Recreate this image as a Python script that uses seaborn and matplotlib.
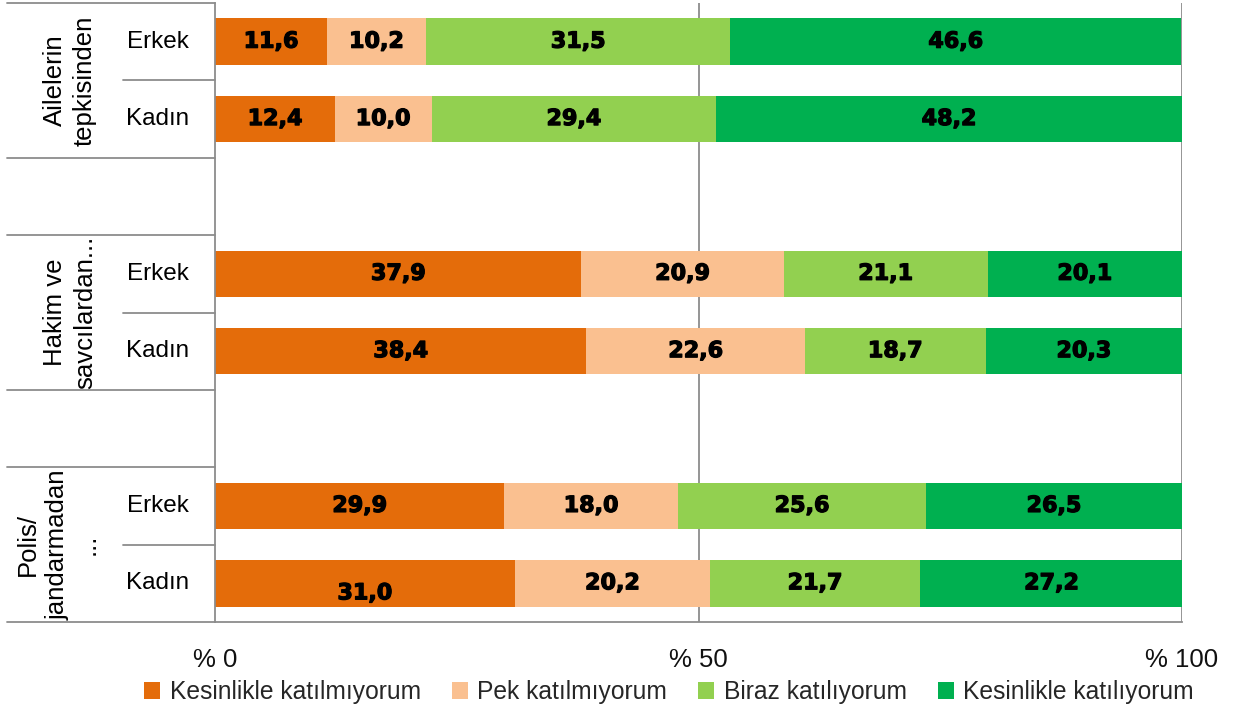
import numpy as np
import pandas as pd
import matplotlib
matplotlib.use("Agg")
import matplotlib.pyplot as plt
import matplotlib.patheffects as pe
import seaborn as sns
from matplotlib.transforms import blended_transform_factory
from matplotlib.patches import Patch
from matplotlib import font_manager

# ---------------- data ----------------
groups = ["Ailelerin\ntepkisinden", "Hakim ve\nsavcılardan...", "Polis/\njandarmadan\n..."]
genders = ["Erkek", "Kadın"]
responses = ["Kesinlikle katılmıyorum", "Pek katılmıyorum",
             "Biraz katılıyorum", "Kesinlikle katılıyorum"]
# rows: (Ailelerin Erkek, Ailelerin Kadın, Hakim Erkek, Hakim Kadın, Polis Erkek, Polis Kadın)
kesinlikle_katilmiyorum = [11.6, 12.4, 37.9, 38.4, 29.9, 31.0]
pek_katilmiyorum = [10.2, 10.0, 20.9, 22.6, 18.0, 20.2]
biraz_katiliyorum = [31.5, 29.4, 21.1, 18.7, 25.6, 21.7]
kesinlikle_katiliyorum = [46.6, 48.2, 20.1, 20.3, 26.5, 27.2]
xticks = [0, 50, 100]
xtick_labels = ["% 0", "% 50", "% 100"]
colors = ["#E46C0A", "#FAC090", "#92D050", "#00B050"]

series = [kesinlikle_katilmiyorum, pek_katilmiyorum, biraz_katiliyorum, kesinlikle_katiliyorum]

# ---------------- build long table ----------------
order = []
row_keys = []
for gi in range(len(groups)):
    for g in genders:
        k = f"g{gi}-{g}"
        order.append(k)
        row_keys.append(k)
    if gi < len(groups) - 1:
        order.append(f"gap{gi}")

records = []
for ri, key in enumerate(row_keys):
    start = 0.0
    for si, resp in enumerate(responses):
        v = series[si][ri]
        records.append(dict(row=key, response=resp, value=v, start=start, end=start + v))
        start += v
df = pd.DataFrame(records)

# ---------------- style ----------------
sns.set_style("white")
fonts = font_manager.fontManager.ttflist
avail = {f.name for f in fonts}
base_font = "Liberation Sans" if "Liberation Sans" in avail else "DejaVu Sans"
plt.rcParams["font.family"] = [base_font, "DejaVu Sans"]

fig = plt.figure(figsize=(12.36, 7.11), dpi=100)
ax = fig.add_axes([215 / 1236, 1 - 622 / 711, (1182 - 215) / 1236, (622 - 3) / 711])

# stacked bars: draw cumulative ends from last to first
for si in reversed(range(len(responses))):
    sub = df[df["response"] == responses[si]]
    sns.barplot(data=sub, x="end", y="row", order=order, orient="h",
                color=colors[si], saturation=1, width=0.6, edgecolor="none",
                linewidth=0, errorbar=None, ax=ax, zorder=2)

ax.set_xlim(0, 100)
ax.set_ylim(len(order) - 0.5, -0.5)

# value labels
pos = {k: i for i, k in enumerate(order)}
heavy = [pe.withStroke(linewidth=0.9, foreground="black")]
for _, r in df.iterrows():
    dy = 0.13 if (r["row"] == "g2-Kadın" and r["response"] == responses[0]) else 0.0
    ax.text(r["start"] + r["value"] / 2, pos[r["row"]] + dy,
            f"{r['value']:.1f}".replace(".", ","),
            ha="center", va="center", fontsize=16, fontweight="bold",
            family="DejaVu Sans", color="black", zorder=5, path_effects=heavy)

# grid lines
grid_col = "#8C8C8C"
for x in [50, 100]:
    ax.axvline(x, color=grid_col, lw=1.3, zorder=1)

for s in ["top", "right"]:
    ax.spines[s].set_visible(False)
for s in ["left", "bottom"]:
    ax.spines[s].set_color(grid_col)
    ax.spines[s].set_linewidth(1.3)

ax.set_xticks(xticks)
ax.set_xticklabels(xtick_labels)
ax.tick_params(axis="x", direction="out", length=8, width=1.3, color=grid_col,
               labelsize=18.5, pad=11, labelcolor="#111111")
ax.set_yticks([])
ax.set_xlabel("")
ax.set_ylabel("")

# label-area lines
trans = blended_transform_factory(ax.transAxes, ax.transData)
full_left = -(215 - 7) / 967
part_left = -(215 - 123) / 967
boundaries_full = [-0.5, 1.5, 2.5, 4.5, 5.5, 7.5]
boundaries_part = [0.5, 3.5, 6.5]
for yb in boundaries_full:
    ax.plot([full_left, 0], [yb, yb], transform=trans, color=grid_col, lw=1.3,
            clip_on=False, zorder=3)
for yb in boundaries_part:
    ax.plot([part_left, 0], [yb, yb], transform=trans, color=grid_col, lw=1.3,
            clip_on=False, zorder=3)

# gender labels
gx = (158 - 215) / 967
for key in row_keys:
    g = key.split("-")[1]
    ax.text(gx, pos[key], g, transform=trans, ha="center", va="center",
            fontsize=17.5, color="black")

# group labels (rotated)
grp_x = [(70 - 215) / 967, (70 - 215) / 967, (58 - 215) / 967]
for gi, gname in enumerate(groups):
    yc = (pos[f"g{gi}-Erkek"] + pos[f"g{gi}-Kadın"]) / 2
    ax.text(grp_x[gi], yc, gname, transform=trans, rotation=90,
            ha="center", va="center", multialignment="center",
            fontsize=18.5, color="black", linespacing=1.3)

# legend
handles = [Patch(facecolor=c, edgecolor="none") for c in colors]
fig.legend(handles, responses, loc="center", ncol=4,
           bbox_to_anchor=(669 / 1236, 1 - 692 / 711), frameon=False,
           handlelength=0.65, handleheight=0.65, handletextpad=0.4,
           columnspacing=1.25, prop={"family": base_font, "size": 17.7})

fig.savefig("out.png", dpi=100)
